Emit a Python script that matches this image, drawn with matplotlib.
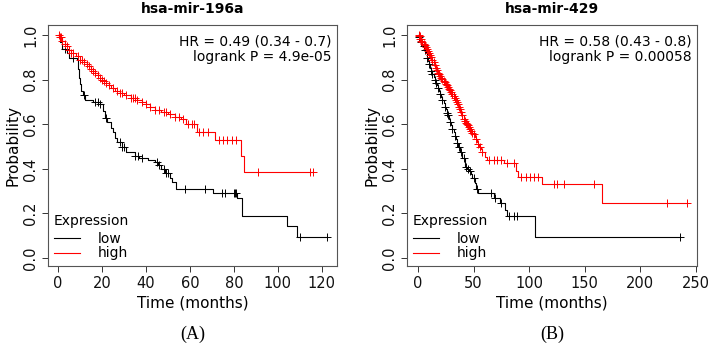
import matplotlib.pyplot as plt
import numpy as np

# ---- panel A: hsa-mir-196a ----
a_low_t = [0, 1, 2, 4, 5, 8.5, 9, 9.5, 10, 10.5, 11.5, 12.5, 16, 19, 20.5, 21.5, 22.5, 24, 25, 26, 27,
           29, 31, 35, 37, 41, 44, 45.5, 47, 48.6, 51, 52, 53.6, 70.5, 81.5, 83.5, 104, 108.5]
a_low_s = [1.0, 0.97, 0.94, 0.92, 0.90, 0.89, 0.85, 0.81, 0.78, 0.75, 0.73, 0.71, 0.70, 0.69, 0.66, 0.63,
           0.61, 0.585, 0.565, 0.54, 0.52, 0.50, 0.475, 0.46, 0.45, 0.44, 0.43, 0.417, 0.40, 0.38, 0.36,
           0.34, 0.31, 0.29, 0.27, 0.19, 0.145, 0.095]
a_low_cens = [3, 7, 12, 17, 18, 19, 22, 28, 29, 30, 35, 36.5, 38, 45, 46, 48, 49, 50, 57.7, 67,
              74.5, 76, 80, 80.5, 81, 110, 122.5]

a_high_t = [0, 1, 2, 3, 4, 5, 6, 8, 10, 12, 13, 14, 15, 16, 17, 18, 19, 20, 21, 22, 23, 24, 26, 28,
            30, 33, 36, 38, 40, 42, 44, 47, 50, 53, 56, 58, 63, 71.5, 83, 84.5]
a_high_s = [1.0, 0.99, 0.975, 0.96, 0.95, 0.935, 0.92, 0.905, 0.89, 0.88, 0.87, 0.86, 0.85, 0.84, 0.83,
            0.82, 0.81, 0.80, 0.795, 0.785, 0.775, 0.765, 0.75, 0.74, 0.73, 0.72, 0.71, 0.70, 0.69,
            0.677, 0.665, 0.655, 0.645, 0.635, 0.625, 0.60, 0.565, 0.53, 0.46, 0.385]
a_high_cens = [0.5, 1, 1.5, 2, 3, 4, 5, 6, 7, 9, 10, 11, 12, 13, 14, 15, 16, 17, 18, 19, 20, 21, 22,
               23, 25, 27, 28, 29, 31, 33, 34, 35, 36, 38, 40, 42, 44, 46, 48, 49, 51, 53, 55, 57,
               59, 61, 62, 64, 66, 68, 73, 75, 77, 79, 81, 91, 114.5, 116]

# ---- panel B: hsa-mir-429 ----
b_low_t = [0, 1, 2, 3, 4, 5, 6, 7, 8, 9, 10, 11, 12, 13, 14, 15, 16, 17, 18, 19, 20, 21, 22, 23, 24,
           25, 26, 27, 28, 29, 30, 31, 32, 33, 34, 35, 36, 38, 40, 42, 44, 46, 48, 49, 51, 52, 54,
           68, 74, 78, 80, 105.5]
b_low_s = [1.0, 0.99, 0.98, 0.97, 0.96, 0.95, 0.935, 0.92, 0.90, 0.885, 0.87, 0.855, 0.84, 0.825,
           0.812, 0.80, 0.787, 0.775, 0.762, 0.75, 0.737, 0.722, 0.71, 0.695, 0.68, 0.667, 0.653,
           0.64, 0.625, 0.61, 0.597, 0.58, 0.565, 0.548, 0.532, 0.518, 0.50, 0.475, 0.45, 0.41,
           0.40, 0.39, 0.375, 0.36, 0.335, 0.31, 0.29, 0.27, 0.245, 0.215, 0.19, 0.095]
b_low_cens = [1, 3, 5, 6, 8, 10, 12, 13, 15, 16, 18, 20, 22, 24, 26, 27, 29, 31, 33, 35, 37, 39,
              41, 43, 45, 47, 50, 53, 66, 69, 75, 82, 86, 89, 236]

b_high_t = [0, 1, 2, 3, 4, 5, 6, 7, 8, 9, 10, 11, 12, 13, 14, 15, 16, 17, 18, 19, 20, 21, 22, 23,
            24, 25, 26, 27, 28, 29, 30, 31, 32, 33, 34, 35, 36, 37, 38, 39, 40, 41, 42, 43, 44, 45,
            46, 47, 48, 49, 50, 51, 52, 53, 54, 55, 56, 57, 58, 60, 62, 77, 88, 90, 111.6, 165.6]
b_high_s = [1.0, 0.995, 0.985, 0.975, 0.97, 0.962, 0.955, 0.947, 0.938, 0.93, 0.921, 0.912, 0.902,
            0.89, 0.878, 0.866, 0.855, 0.843, 0.832, 0.825, 0.818, 0.81, 0.803, 0.796, 0.789,
            0.782, 0.775, 0.768, 0.76, 0.752, 0.744, 0.737, 0.728, 0.72, 0.71, 0.70, 0.69, 0.678,
            0.667, 0.655, 0.64, 0.625, 0.615, 0.608, 0.602, 0.597, 0.59, 0.58, 0.57, 0.563, 0.556,
            0.545, 0.535, 0.52, 0.51, 0.505, 0.50, 0.49, 0.475, 0.455, 0.44, 0.425, 0.39, 0.365,
            0.33, 0.245]
b_high_cens = [0.5, 1, 1.5, 2, 2.5, 3, 4, 5, 6, 7, 8, 9, 10, 11, 12, 13, 14, 15, 16, 17, 18, 19,
               20, 21, 22, 23, 24, 25, 26, 27, 28, 29, 30, 31, 32, 33, 34, 35, 36, 37, 38, 39, 40,
               41, 42, 43, 44, 45, 46, 47, 48, 49, 50, 52, 54, 56, 58, 64, 68.5, 71, 74.5, 80, 86,
               93, 97, 101, 104, 108, 122, 125, 131, 158.6, 224, 242]

titles = ['hsa-mir-196a', 'hsa-mir-429']
hr_text = ['HR = 0.49 (0.34 - 0.7)\nlogrank P = 4.9e-05',
           'HR = 0.58 (0.43 - 0.8)\nlogrank P = 0.00058']
panel_tags = ['(A)', '(B)']

plt.rcParams['font.family'] = 'DejaVu Sans'
fig = plt.figure(figsize=(7.08, 3.44), dpi=100)
ax_a = fig.add_axes([0.0678, 0.2267, 0.408, 0.700])
ax_b = fig.add_axes([0.5749, 0.2267, 0.4096, 0.700])


def km_curve(ax, t, s, cens, color):
    t = np.asarray(t, float)
    s = np.asarray(s, float)
    end = max(max(cens), t[-1])
    tt = np.append(t, end)
    ss = np.append(s, s[-1])
    ax.step(tt, ss, where='post', color=color, lw=0.8)
    cens = np.asarray(cens, float)
    cy = s[np.searchsorted(t, cens, side='right') - 1]
    ax.plot(cens, cy, ls='none', marker='+', ms=5.5, mew=0.7, color=color)


panels = [
    (ax_a, a_low_t, a_low_s, a_low_cens, a_high_t, a_high_s, a_high_cens, (-4.5, 126.8), np.arange(0, 121, 20)),
    (ax_b, b_low_t, b_low_s, b_low_cens, b_high_t, b_high_s, b_high_cens, (-9.9, 251.1), np.arange(0, 251, 50)),
]

for i, (ax, lt, ls, lc, ht, hs, hc, xlim, xt) in enumerate(panels):
    km_curve(ax, lt, ls, lc, 'black')
    km_curve(ax, ht, hs, hc, 'red')
    ax.set_xlim(*xlim)
    ax.set_ylim(-0.036, 1.045)
    ax.set_xticks(xt)
    ax.set_yticks(np.arange(0, 1.01, 0.2))
    ax.set_yticklabels(['0.0', '0.2', '0.4', '0.6', '0.8', '1.0'], rotation=90, va='center')
    ax.tick_params(direction='out', length=4, width=0.7, colors='#333333', labelsize=10.5,
                   labelcolor='#111111')
    ax.tick_params(axis='y', pad=3)
    for sp in ax.spines.values():
        sp.set_color('#555555')
        sp.set_linewidth(0.8)
    ax.set_xlabel('Time (months)', fontsize=11, labelpad=3)
    ax.set_ylabel('Probability', fontsize=11, labelpad=2)
    ax.set_title(titles[i], fontsize=10, fontweight='bold', pad=9)
    ax.text(0.98, 0.96, hr_text[i], transform=ax.transAxes, ha='right', va='top',
            fontsize=10, linespacing=1.15)
    h_low, = ax.plot([], [], color='black', lw=0.8)
    h_high, = ax.plot([], [], color='red', lw=0.8)
    leg = ax.legend([h_low, h_high], ['low', 'high'], title='Expression', loc='lower left',
                    frameon=False, fontsize=10, title_fontsize=10, handlelength=1.9,
                    handletextpad=1.3, labelspacing=0.05, borderpad=0.2, borderaxespad=0.2,
                    alignment='left')
    leg.get_title().set_y(3)
    fig.text(0.5 * (ax.get_position().x0 + ax.get_position().x1), 1 - 334 / 344, panel_tags[i],
             ha='center', va='center', fontsize=13, family='Liberation Serif')

fig.savefig('out.png', dpi=100)
